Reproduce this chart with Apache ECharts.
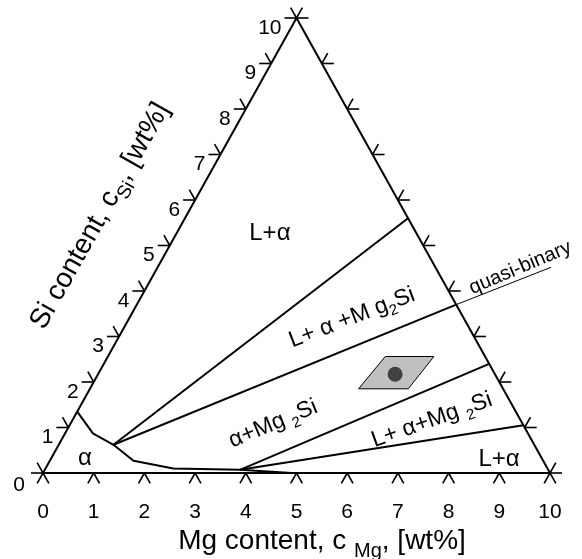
<!DOCTYPE html>
<html><head><meta charset="utf-8">
<script src="https://cdn.jsdelivr.net/npm/echarts@6/dist/echarts.min.js"></script>
<style>html,body{margin:0;padding:0;background:#fff}#c{width:582px;height:559px}</style>
</head><body><div id="c"></div>
<script>
// ---- data (ternary coordinates: Mg content, Si content in wt%) ----
const mgTicks = [0, 1, 2, 3, 4, 5, 6, 7, 8, 9, 10];
const siTicks = [0, 1, 2, 3, 4, 5, 6, 7, 8, 9, 10];
const mgTickLabels = ['0','1','2','3','4','5','6','7','8','9','10'];
const siTickLabels = ['0','1','2','3','4','5','6','7','8','9','10'];
// solvus boundary of alpha region
const solvusMg = [0.0, 0.55, 1.08, 1.65, 2.52, 3.85, 4.9];
const solvusSi = [1.35, 0.87, 0.62, 0.27, 0.10, 0.07, 0.0];
// tie lines (start -> end on right edge)
const tieStartMg = [1.08, 1.08, 3.85, 3.85];
const tieStartSi = [0.62, 0.62, 0.07, 0.07];
const tieEndMg   = [4.4, 6.3, 7.6, 8.95];
const tieEndSi   = [5.6, 3.7, 2.4, 1.05];
// quasi-binary extension
const quasiMg = [6.3, 8.13];
const quasiSi = [3.7, 4.73];
// sample window and point
const sampleMg = [5.47, 6.43, 6.28, 5.30];
const sampleSi = [2.56, 2.56, 1.85, 1.85];
const pointMg = [5.86];
const pointSi = [2.17];
// region labels
const regionText = ['L+α', '{a|L+ α +M g}{b|2}{a|Si}', '{a|α+Mg }{b|2}{a|Si}', '{a|L+ α+Mg }{b|2}{a|Si}', 'L+α', 'α', 'quasi-binary'];
const regionMg   = [1.84, 4.39, 4.00, 7.09, 8.84, 0.66, 7.16];
const regionSi   = [5.27, 3.41, 1.08, 1.16, 0.31, 0.33, 4.51];

// ---- helpers ----
const FONT = '"Liberation Sans", Arial, Helvetica, sans-serif';
const toXY = (mg, si) => [mg + si / 2, si];
const pts = (mgs, sis) => mgs.map((m, i) => toXY(m, sis[i]));

const regionRot  = [0, 21, 22.5, 19.5, 0, 0, 23];
const regionSize = [24, 23, 23, 23, 24, 24, 20];

const chart = echarts.init(document.getElementById('c'), null, {renderer: 'canvas'});

const triangle = [toXY(mgTicks[0], 0), toXY(mgTicks[mgTicks.length - 1], 0), toXY(0, siTicks[siTicks.length - 1]), toXY(mgTicks[0], 0)];

const tickData = [];
mgTicks.forEach(m => tickData.push([...toXY(m, 0), 0]));
siTicks.forEach(s => tickData.push([...toXY(0, s), 1]));
siTicks.forEach(s => tickData.push([...toXY(10 - s, s), 2]));

function norm(v) { const l = Math.hypot(v[0], v[1]); return [v[0] / l, v[1] / l]; }

const TL = 12;
function renderTicks(params, api) {
  const p = api.coord([api.value(0), api.value(1)]);
  const e = api.value(2);
  const o = api.coord([0, 0]), r = api.coord([10, 0]), a = api.coord([5, 10]);
  const uL = norm([o[0] - a[0], o[1] - a[1]]);
  const uR = norm([r[0] - a[0], r[1] - a[1]]);
  let arms;
  if (e === 0) arms = [uL, uR];
  else if (e === 1) arms = [[-1, 0], [-uR[0], -uR[1]]];
  else arms = [[1, 0], [-uL[0], -uL[1]]];
  return {
    type: 'group',
    children: arms.map(d => ({
      type: 'line',
      shape: {x1: p[0], y1: p[1], x2: p[0] + d[0] * TL, y2: p[1] + d[1] * TL},
      style: {stroke: '#000', lineWidth: 1.6}
    }))
  };
}

const tickLabelData = [];
mgTicks.forEach((m, i) => tickLabelData.push([...toXY(m, 0), 0, i]));
siTicks.forEach((s, i) => tickLabelData.push([...toXY(0, s), 1, i]));

function renderTickLabels(params, api) {
  const p = api.coord([api.value(0), api.value(1)]);
  const e = api.value(2), i = api.value(3);
  if (e === 0) {
    return {type: 'text', x: p[0], y: p[1] + 39,
      style: {text: mgTickLabels[i], fill: '#000', font: '21px ' + FONT, align: 'center', verticalAlign: 'middle', textAlign: 'center', textVerticalAlign: 'middle'}};
  }
  return {type: 'text', x: p[0] - (i === 0 ? 18 : 15), y: p[1] + (i === 0 ? 12 : 10),
    style: {text: siTickLabels[i], fill: '#000', font: '21px ' + FONT, align: 'right', verticalAlign: 'middle', textAlign: 'right', textVerticalAlign: 'middle'}};
}

const regionData = regionMg.map((m, i) => [...toXY(m, regionSi[i]), i]);
function renderRegions(params, api) {
  const p = api.coord([api.value(0), api.value(1)]);
  const i = api.value(2);
  const fs = regionSize[i];
  return {
    type: 'text', x: p[0], y: p[1], rotation: regionRot[i] * Math.PI / 180,
    style: {
      text: regionText[i], fill: '#000', fontSize: fs, fontFamily: FONT,
      align: 'center', verticalAlign: 'middle', textAlign: 'center', textVerticalAlign: 'middle',
      rich: {
        a: {fontSize: fs, fontFamily: FONT, fill: '#000', verticalAlign: 'bottom'},
        b: {fontSize: 15, fontFamily: FONT, fill: '#000', verticalAlign: 'bottom', padding: [0, 0, -4, 0]}
      }
    }
  };
}

function renderPoly(params, api) {
  const points = sampleMg.map((m, i) => api.coord(toXY(m, sampleSi[i])));
  return {type: 'polygon', shape: {points}, style: {fill: '#c0c0c0', stroke: '#000', lineWidth: 1}};
}

const lineStyle = (w) => ({color: '#000', width: w});
const series = [
  {type: 'line', data: triangle, symbol: 'none', lineStyle: lineStyle(2), silent: true, z: 3},
  {type: 'line', data: pts(solvusMg, solvusSi), symbol: 'none', lineStyle: lineStyle(2), silent: true, z: 3},
];
tieStartMg.forEach((m, i) => series.push({type: 'line', data: [toXY(m, tieStartSi[i]), toXY(tieEndMg[i], tieEndSi[i])], symbol: 'none', lineStyle: lineStyle(2), silent: true, z: 3}));
series.push({type: 'line', data: pts(quasiMg, quasiSi), symbol: 'none', lineStyle: lineStyle(1), silent: true, z: 3});
series.push({type: 'custom', renderItem: renderPoly, data: [[0, 0]], clip: false, silent: true, z: 2});
series.push({type: 'scatter', data: pts(pointMg, pointSi), symbol: 'circle', symbolSize: 15, itemStyle: {color: '#222'}, silent: true, z: 4});
series.push({type: 'custom', renderItem: renderTicks, data: tickData, clip: false, silent: true, z: 3});
series.push({type: 'custom', renderItem: renderTickLabels, data: tickLabelData, clip: false, silent: true, z: 3});
series.push({type: 'custom', renderItem: renderRegions, data: regionData, clip: false, silent: true, z: 3});

chart.setOption({
  animation: false,
  backgroundColor: '#fff',
  grid: {left: 43, top: 18, width: 507, height: 455},
  xAxis: {type: 'value', min: 0, max: 10, show: false},
  yAxis: {type: 'value', min: 0, max: 10, show: false},
  graphic: [
    {type: 'text', x: 322, y: 541,
     style: {text: '{a|Mg content, c }{b|Mg}{a|, [wt%]}', align: 'center', verticalAlign: 'middle', textAlign: 'center', textVerticalAlign: 'middle',
       rich: {a: {fontSize: 28, fontFamily: FONT, fill: '#000', verticalAlign: 'bottom'}, b: {fontSize: 20, fontFamily: FONT, fill: '#000', verticalAlign: 'bottom', padding: [0, 0, -6, 0]}}}},
    {type: 'text', x: 100, y: 216, rotation: 60.5 * Math.PI / 180,
     style: {text: '{a|Si content, c}{b|Si}{a|, [wt%]}', align: 'center', verticalAlign: 'middle', textAlign: 'center', textVerticalAlign: 'middle',
       rich: {a: {fontSize: 28, fontFamily: FONT, fill: '#000', verticalAlign: 'bottom'}, b: {fontSize: 19, fontFamily: FONT, fill: '#000', verticalAlign: 'bottom', padding: [0, 0, -6, 0]}}}}
  ],
  series
});
</script></body></html>
